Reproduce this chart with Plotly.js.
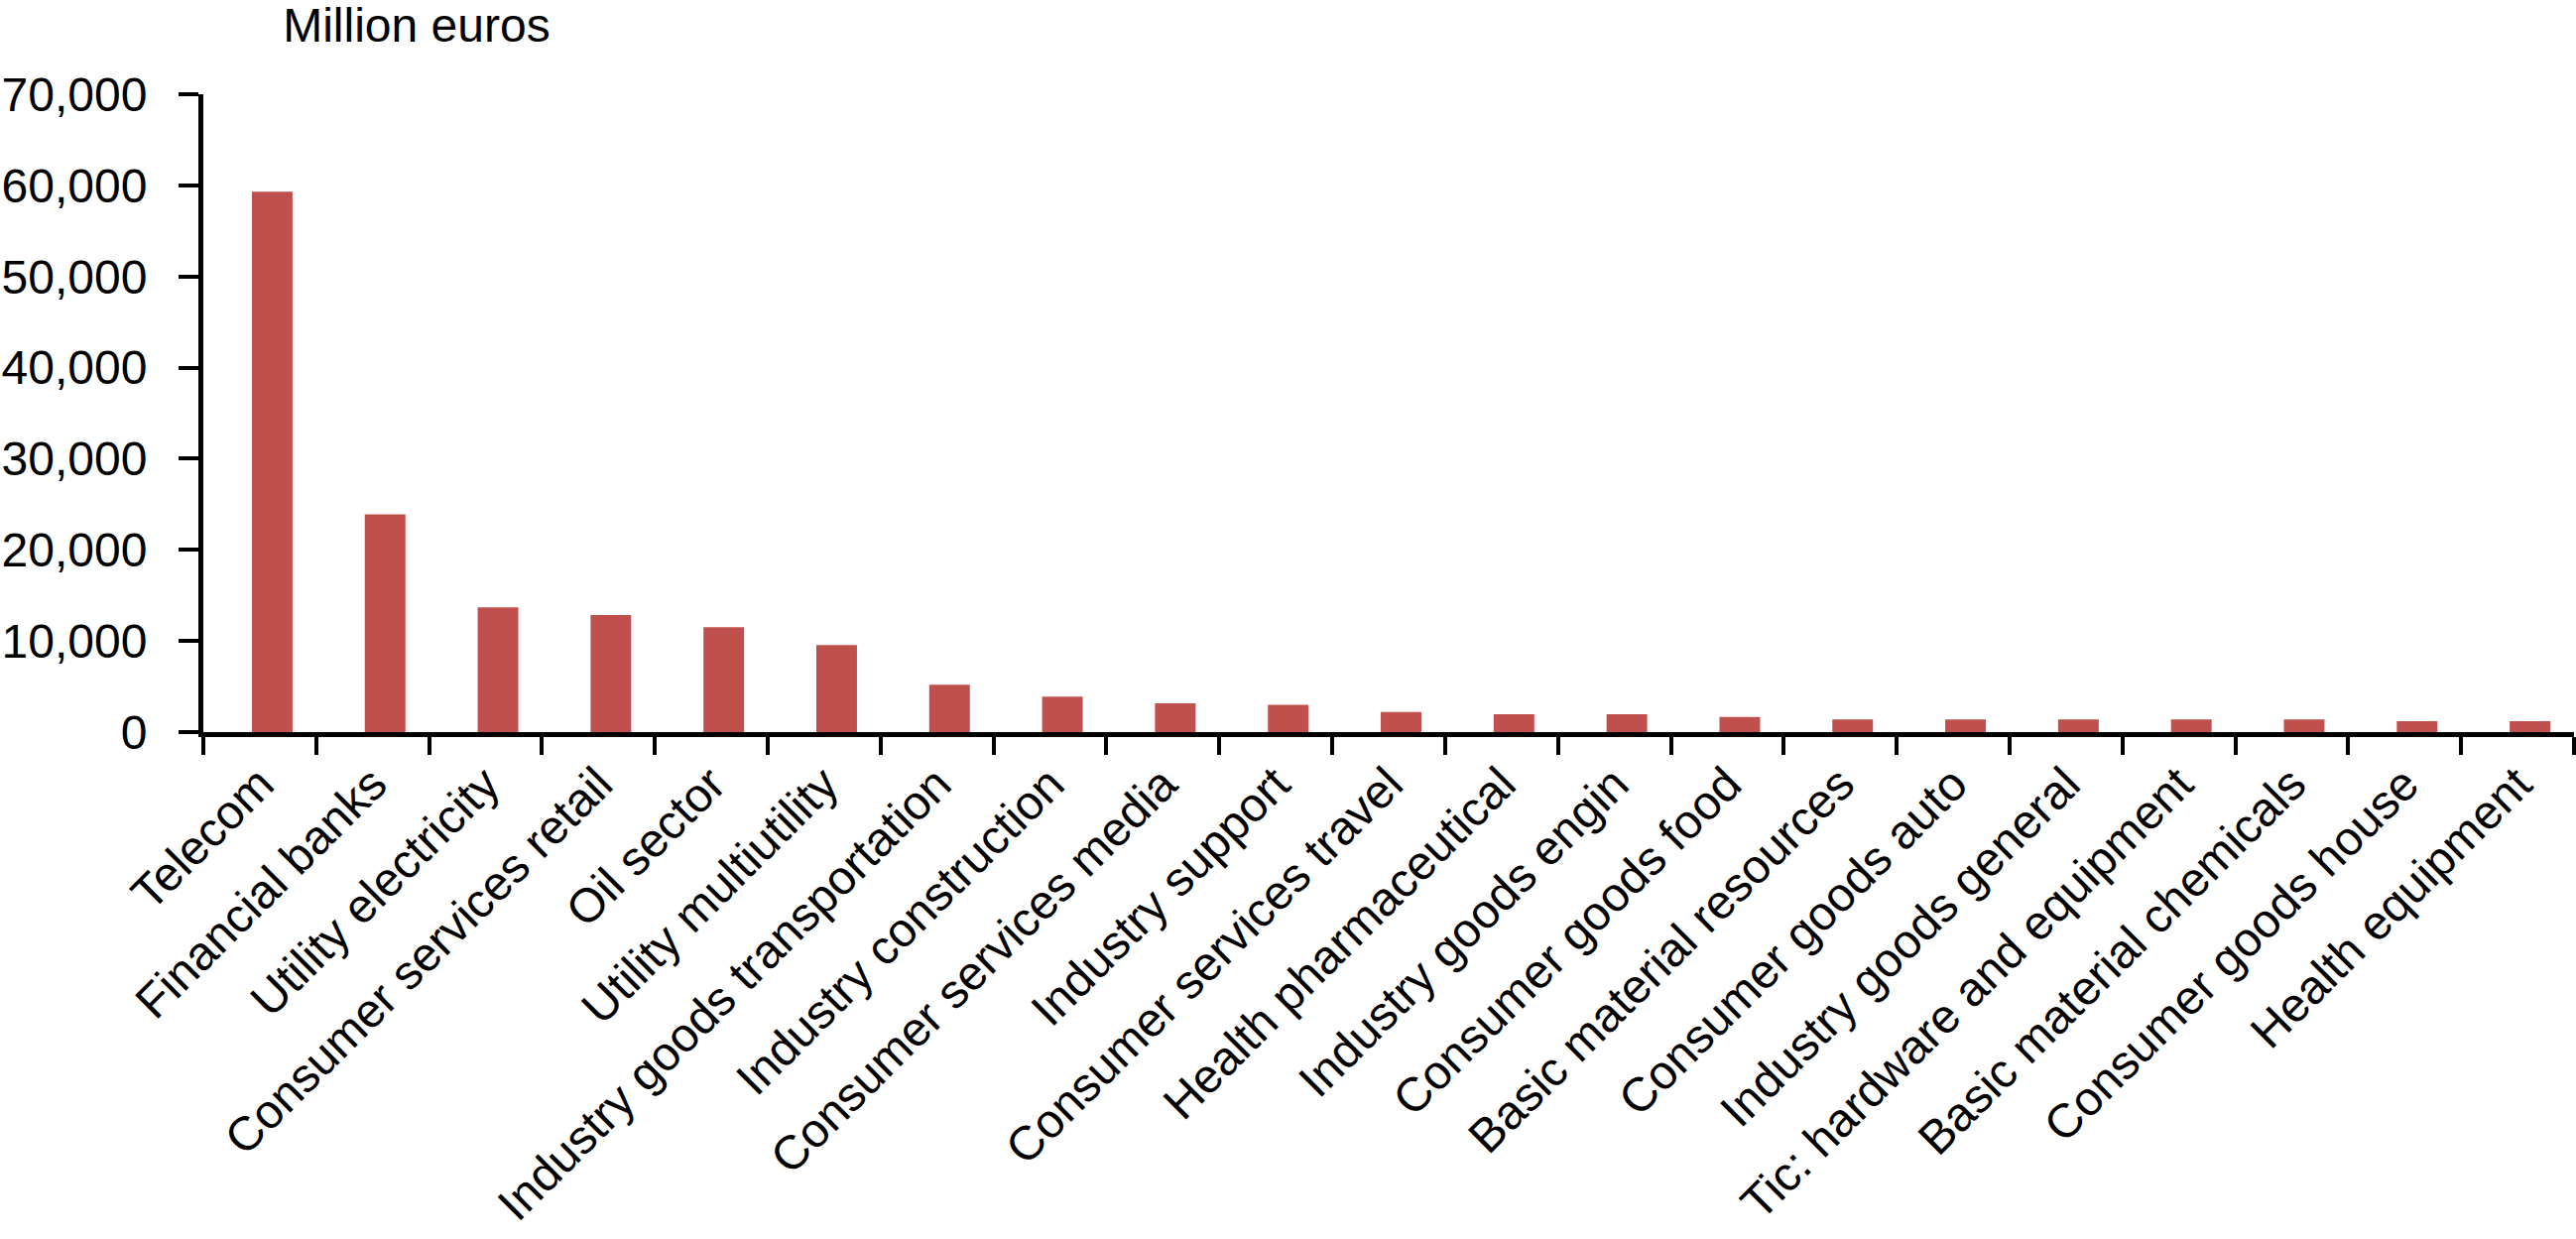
<!DOCTYPE html>
<html>
<head>
<meta charset="utf-8">
<script src="https://cdn.plot.ly/plotly-3.0.1.min.js"></script>
<style>html,body{margin:0;padding:0;background:#fff;}#chart{width:2597px;height:1249px;}</style>
</head>
<body>
<div id="chart"></div>
<script>
const categories = [
  "Telecom", "Financial banks", "Utility electricity", "Consumer services retail",
  "Oil sector", "Utility multiutility", "Industry goods transportation",
  "Industry construction", "Consumer services media", "Industry support",
  "Consumer services travel", "Health pharmaceutical", "Industry goods engin",
  "Consumer goods food", "Basic material resources", "Consumer goods auto",
  "Industry goods general", "Tic: hardware and equipment", "Basic material chemicals",
  "Consumer goods house", "Health equipment"
];
const values = [
  59300, 23900, 13700, 12850,
  11500, 9550, 5200,
  3900, 3150, 3000,
  2200, 1950, 1950,
  1650, 1400, 1400,
  1400, 1400, 1400,
  1200, 1200
];
const yTickVals = [0, 10000, 20000, 30000, 40000, 50000, 60000, 70000];
const yTitle = "Million euros";

const font = {family: "Liberation Sans, Arial, Helvetica, sans-serif", size: 48, color: "#000"};

const trace = {
  type: "bar",
  x: categories,
  y: values,
  width: 0.36,
  offset: -0.07,
  marker: {color: "#C0504D", line: {width: 0}},
  hoverinfo: "x+y"
};

const layout = {
  width: 2597,
  height: 1249,
  paper_bgcolor: "#fff",
  plot_bgcolor: "#fff",
  font: font,
  showlegend: false,
  margin: {l: 205, r: 2, t: 95, b: 511, pad: 0},
  title: {
    text: yTitle,
    font: font,
    xref: "container", x: 0.1617, xanchor: "center",
    yref: "container", y: 0.98, yanchor: "middle"
  },
  xaxis: {
    type: "category",
    range: [-0.5, categories.length - 0.5],
    tickangle: -45,
    ticks: "outside",
    tickson: "boundaries",
    ticklen: 18,
    tickwidth: 4,
    tickcolor: "#000",
    showline: true,
    linecolor: "#000",
    linewidth: 5,
    showgrid: false,
    zeroline: false,
    automargin: false,
    tickfont: font
  },
  yaxis: {
    range: [0, 70000],
    tickvals: yTickVals,
    tickformat: ",d",
    ticks: "outside",
    ticklen: 20,
    tickwidth: 4,
    tickcolor: "#000",
    showline: true,
    linecolor: "#000",
    linewidth: 5,
    showgrid: false,
    zeroline: false,
    automargin: false,
    ticklabelstandoff: 22,
    tickfont: font
  }
};

Plotly.newPlot("chart", [trace], layout, {staticPlot: true, displayModeBar: false});
</script>
</body>
</html>
